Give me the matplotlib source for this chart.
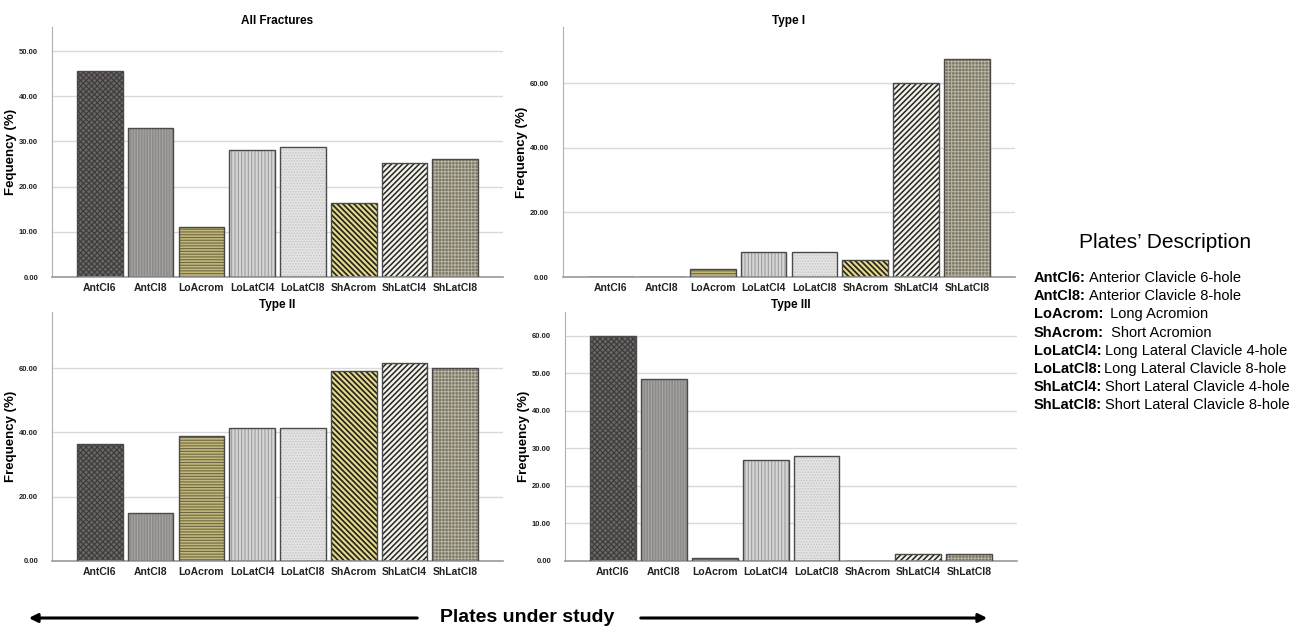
import numpy as np
import matplotlib
matplotlib.use("Agg")
import matplotlib.pyplot as plt
from matplotlib.patches import FancyArrowPatch

plt.rcParams['font.family'] = ['Liberation Sans', 'DejaVu Sans']

# data
plates = ['AntCl6', 'AntCl8', 'LoAcrom', 'LoLatCl4', 'LoLatCl8',
          'ShAcrom', 'ShLatCl4', 'ShLatCl8']
all_fractures = [45.6, 32.9, 11.0, 28.0, 28.7, 16.4, 25.3, 26.1]
type_1 = [0.0, 0.0, 2.6, 7.65, 7.65, 5.2, 60.0, 67.5]
type_2 = [36.3, 15.05, 38.9, 41.4, 41.4, 59.0, 61.5, 60.1]
type_3 = [60.0, 48.4, 0.7, 26.8, 27.9, 0.0, 1.8, 1.8]

legend_abbr = ['AntCl6:', 'AntCl8:', 'LoAcrom:', 'ShAcrom:', 'LoLatCl4:',
               'LoLatCl8:', 'ShLatCl4:', 'ShLatCl8:']
legend_desc = ['Anterior Clavicle 6-hole', 'Anterior Clavicle 8-hole',
               ' Long Acromion', ' Short Acromion',
               'Long Lateral Clavicle 4-hole', 'Long Lateral Clavicle 8-hole',
               'Short Lateral Clavicle 4-hole', 'Short Lateral Clavicle 8-hole']

# per-plate style: face colour, hatch colour, hatch, hatch line width
faces = ['#6b6664', '#8e8a88', '#c2b87c', '#d6d6d6', '#e4e4e4',
         '#e4d98e', '#f3f1e8', '#7a7564']
hatch_cols = ['#3c3a3a', '#a9a5a3', '#6e6742', '#9c9c9c', '#c6c6c6',
              '#26241c', '#262626', '#b9b5a3']
hatches = ['xxxxxx', '||||||', '------', '|||||', '......',
           '\\' * 6, '/' * 6, '+' * 5]
hatch_lw = [0.8, 0.8, 0.8, 0.8, 0.8, 1.25, 1.1, 0.7]

panels = [
    ('All Fractures', all_fractures, [0.0398, 0.561, 0.3448, 0.396], 55.3,
     np.arange(0, 51, 10), 'Fequency (%)'),
    ('Type I', type_1, [0.4304, 0.561, 0.3456, 0.396], 77.4,
     np.arange(0, 61, 20), 'Frequency (%)'),
    ('Type II', type_2, [0.0398, 0.111, 0.3448, 0.3946], 77.5,
     np.arange(0, 61, 20), 'Frequency (%)'),
    ('Type III', type_3, [0.432, 0.111, 0.3456, 0.3946], 66.4,
     np.arange(0, 61, 10), 'Frequency (%)'),
]

fig = plt.figure(figsize=(13.08, 6.31), dpi=100)

for title, vals, rect, ytop, yticks, ylab in panels:
    ax = fig.add_axes(rect)
    x = np.arange(len(plates))
    # hatch layer per bar (own hatch width), then outline layer
    for i in range(len(plates)):
        with plt.rc_context({'hatch.linewidth': hatch_lw[i]}):
            ax.bar(x[i], vals[i], width=0.9, color=faces[i],
                   edgecolor=hatch_cols[i], hatch=hatches[i],
                   linewidth=0, zorder=2)
    ax.bar(x, vals, width=0.9, color='none', edgecolor='#4a4a4a',
           linewidth=1.0, zorder=3)
    ax.set_xlim(-0.94, 7.94)
    ax.set_ylim(0, ytop)
    ax.set_yticks(yticks)
    ax.set_yticklabels([f'{v:.2f}' for v in yticks], fontsize=5.5,
                       fontweight='bold', color='#222222')
    ax.set_xticks(x)
    ax.set_xticklabels(plates, fontsize=7.5, fontweight='bold',
                       color='#222222')
    ax.tick_params(axis='both', length=0)
    ax.tick_params(axis='y', pad=10)
    ax.tick_params(axis='x', pad=4)
    ax.yaxis.grid(True, color='#d9d9d9', linewidth=1.0, zorder=0)
    ax.set_axisbelow(True)
    for s in ['top', 'right']:
        ax.spines[s].set_visible(False)
    ax.spines['left'].set_color('#b0b0b0')
    ax.spines['bottom'].set_color('#9a9a9a')
    ax.spines['bottom'].set_linewidth(1.2)
    ax.set_title(title, fontsize=8.5, fontweight='bold', pad=2.5)
    ax.set_ylabel(ylab, fontsize=9.5, fontweight='bold')
    ax.yaxis.set_label_coords(-0.078, 0.5)

# description block on the right
W, H = 1308, 631
fig.text(1165 / W, 1 - 243 / H, 'Plates\u2019 Description', fontsize=15,
         ha='center', va='center')
fig.canvas.draw()
renderer = fig.canvas.get_renderer()
for i, (abbr, desc) in enumerate(zip(legend_abbr, legend_desc)):
    y = 1 - (278 + 18.2 * i) / H
    t = fig.text(1034 / W, y, abbr, fontsize=10.5, fontweight='bold',
                 ha='left', va='center')
    bb = t.get_window_extent(renderer)
    fig.text(bb.x1 / W + 3 / W, y, desc, fontsize=10.5, ha='left',
             va='center')

# bottom axis caption with arrows
yb = 1 - 618 / H
fig.text(527 / W, yb, 'Plates under study', fontsize=14, fontweight='bold',
         family=['Liberation Sans Narrow', 'Liberation Sans'],
         ha='center', va='center')
for x0, x1 in [(420, 26), (638, 990)]:
    arr = FancyArrowPatch((x0 / W, yb), (x1 / W, yb),
                          transform=fig.transFigure,
                          arrowstyle='-|>,head_length=5,head_width=2.5',
                          color='black', linewidth=2.2, mutation_scale=1)
    fig.add_artist(arr)

fig.savefig('out.png', dpi=100)
